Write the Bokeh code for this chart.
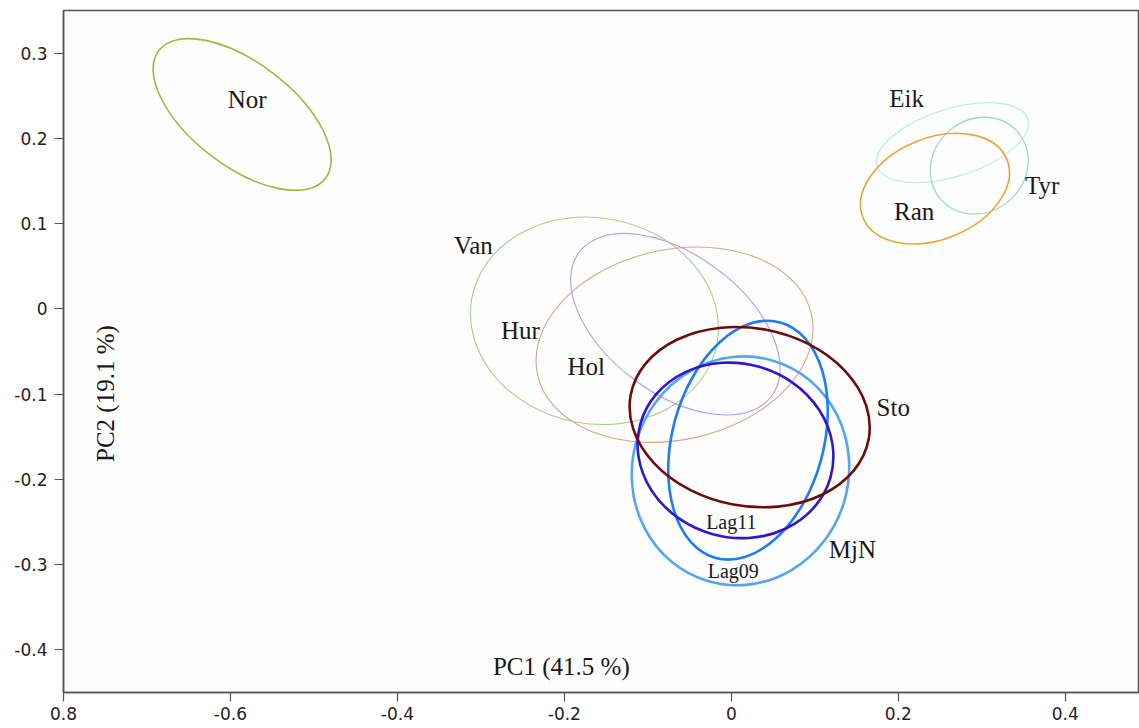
from bokeh.plotting import figure
from bokeh.models import FixedTicker, Range1d
from bokeh.core.properties import value
from bokeh.embed import file_html
from bokeh.resources import INLINE

# --- data -----------------------------------------------------------------
groups  = ["Nor", "Eik", "Tyr", "Ran", "Van", "Hur", "Hol", "MjN", "Lag09", "Lag11", "Sto"]
cx      = [-0.586, 0.265, 0.297, 0.244, -0.164, -0.068, -0.067, 0.011, 0.020, 0.005, 0.022]
cy      = [0.228, 0.195, 0.168, 0.141, -0.014, -0.042, -0.018, -0.190, -0.154, -0.166, -0.127]
ew      = [0.2515, 0.189, 0.1226, 0.186, 0.2987, 0.336, 0.288, 0.2754, 0.2925, 0.2366, 0.290]
eh      = [0.121, 0.0793, 0.108, 0.119, 0.2414, 0.2234, 0.162, 0.2538, 0.1775, 0.2037, 0.2087]
eangle  = [-37.5, 17.3, 42.0, 22.0, -10.7, 12.4, -36.8, 73.5, 74.7, -15.8, -10.7]

label_text = ["Nor", "Eik", "Tyr", "Ran", "Van", "Hur", "Hol", "Sto", "MjN"]
label_x    = [-0.580, 0.210, 0.3725, 0.219, -0.309, -0.2527, -0.1737, 0.194, 0.145]
label_y    = [0.2456, 0.2468, 0.145, 0.1146, 0.0749, -0.0257, -0.0678, -0.1158, -0.2819]
small_text = ["Lag11", "Lag09"]
small_x    = [0.000, 0.0024]
small_y    = [-0.2503, -0.3076]

x_ticks       = [-0.8, -0.6, -0.4, -0.2, 0.0, 0.2, 0.4]
x_tick_labels = ["0.8", "-0.6", "-0.4", "-0.2", "0", "0.2", "0.4"]
y_ticks       = [-0.4, -0.3, -0.2, -0.1, 0.0, 0.1, 0.2, 0.3]
y_tick_labels = ["-0.4", "-0.3", "-0.2", "-0.1", "0", "0.1", "0.2", "0.3"]

x_title = "PC1 (41.5 %)"
y_title = "PC2 (19.1 %)"

# --- styles ---------------------------------------------------------------
colors = ["#a9b43c", "#bfece4", "#9fd9ca", "#f0a232", "#aecb98", "#d9a590",
          "#ab9ef2", "#54a6f2", "#1f7ded", "#2f16cf", "#6e0c0c"]
lw     = [1.6, 1.3, 1.3, 1.6, 1.1, 1.1, 1.1, 2.6, 2.6, 2.6, 2.6]

p = figure(width=1139, height=728, output_backend="svg", toolbar_location=None,
           x_range=Range1d(-0.8, 0.489), y_range=Range1d(-0.45, 0.35),
           min_border_left=63, min_border_right=0, min_border_top=10,
           min_border_bottom=36)
p.background_fill_color = "#fdfdfd"
p.border_fill_color = "#ffffff"
p.outline_line_color = "#555555"
p.outline_line_width = 1.5
p.grid.visible = False

for i in range(len(groups)):
    p.ellipse(x=[cx[i]], y=[cy[i]], width=[ew[i]], height=[eh[i]], angle=[eangle[i]],
              angle_units="deg", fill_color=None, line_color=colors[i], line_width=lw[i])

serif = value("Liberation Serif")
p.text(x=label_x, y=label_y, text=label_text, text_font=serif,
       text_font_size="25px", text_color="#1a1a1a", text_align="center",
       text_baseline="middle")
p.text(x=small_x, y=small_y, text=small_text, text_font=serif,
       text_font_size="20px", text_color="#1a1a1a", text_align="center",
       text_baseline="middle")
p.text(x=[-0.2036], y=[-0.4195], text=[x_title], text_font=serif,
       text_font_size="25px", text_color="#1a1a1a", text_align="center",
       text_baseline="middle")
p.text(x=[-0.7497], y=[-0.0994], text=[y_title], text_font=serif,
       text_font_size="25px", text_color="#1a1a1a", text_align="center",
       text_baseline="middle", angle=90, angle_units="deg")

for ax, ticks, labels, standoff in ((p.xaxis, x_ticks, x_tick_labels, 5),
                                     (p.yaxis, y_ticks, y_tick_labels, 7)):
    ax.ticker = FixedTicker(ticks=ticks)
    ax.major_label_overrides = {t: l for t, l in zip(ticks, labels)}
    ax.axis_line_color = "#555555"
    ax.axis_line_width = 1.5
    ax.major_tick_line_color = "#555555"
    ax.major_tick_line_width = 1.2
    ax.major_tick_in = 0
    ax.major_tick_out = 9
    ax.minor_tick_line_color = None
    ax.major_label_text_font = "DejaVu Sans"
    ax.major_label_text_font_size = "17px"
    ax.major_label_text_color = "#222222"
    ax.major_label_standoff = standoff

open("out.html", "w").write(file_html(p, INLINE))
